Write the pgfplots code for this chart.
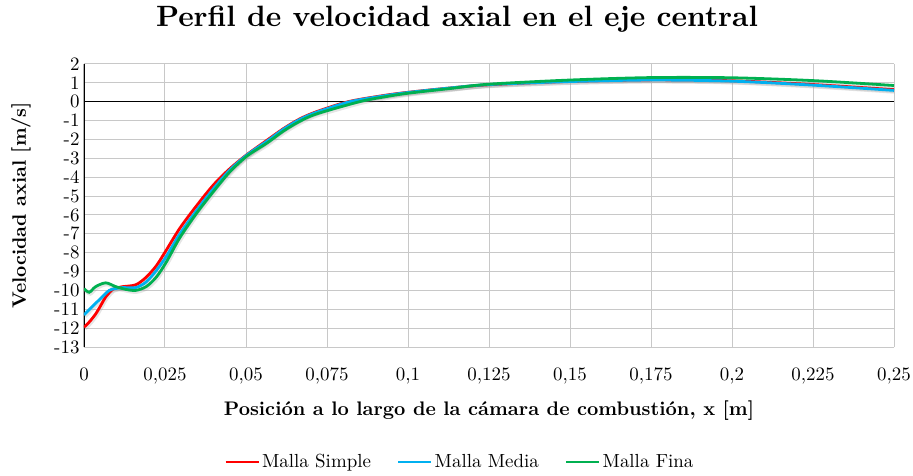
\documentclass[border=0pt]{standalone}
\usepackage{fontspec}
\setmainfont{lmroman10}[Extension=.otf, UprightFont=*-regular, BoldFont=*-bold, ItalicFont=*-italic, BoldItalicFont=*-bolditalic]
\usepackage{pgfplots}
\pgfplotsset{compat=1.18}
\usepackage{pgfplotstable}
\definecolor{cRed}{RGB}{255,0,0}
\definecolor{cBlue}{RGB}{0,176,240}
\definecolor{cGreen}{RGB}{0,176,80}
\definecolor{cGrid}{RGB}{200,200,200}

\pgfplotstableread{
x y
0 -11.95
0.0015 -11.7
0.0036 -11.25
0.0055 -10.7
0.0067 -10.35
0.0088 -9.95
0.0105 -9.85
0.012 -9.8
0.016 -9.7
0.0192 -9.3
0.0223 -8.7
0.0251 -7.95
0.0296 -6.7
0.0348 -5.5
0.040 -4.4
0.045 -3.55
0.0503 -2.8
0.0564 -2.05
0.0616 -1.42
0.0667 -0.9
0.0719 -0.52
0.0815 0.0
0.0925 0.33
0.1 0.5
0.113 0.73
0.125 0.9
0.15 1.08
0.175 1.16
0.2 1.11
0.225 0.91
0.25 0.64
}\simple

\pgfplotstableread{
x y
0 -11.3
0.002 -10.95
0.0047 -10.5
0.0078 -10.0
0.0105 -9.88
0.012 -9.85
0.016 -9.85
0.0192 -9.55
0.0223 -8.95
0.0254 -8.2
0.0296 -7.0
0.0348 -5.75
0.040 -4.6
0.045 -3.62
0.0503 -2.82
0.0564 -2.1
0.0616 -1.45
0.0667 -0.93
0.0719 -0.55
0.082 0.0
0.0925 0.31
0.1 0.49
0.113 0.73
0.125 0.91
0.15 1.07
0.175 1.15
0.2 1.09
0.225 0.88
0.25 0.6
}\media

\pgfplotstableread{
x y
0 -9.9
0.0016 -10.1
0.0036 -9.8
0.0067 -9.6
0.0098 -9.8
0.013 -9.95
0.016 -10.0
0.0192 -9.8
0.0223 -9.3
0.0254 -8.5
0.0296 -7.2
0.0348 -5.9
0.040 -4.75
0.045 -3.72
0.0503 -2.88
0.0564 -2.2
0.0616 -1.55
0.0667 -1.03
0.0719 -0.64
0.085 0.0
0.0925 0.25
0.1 0.45
0.113 0.7
0.125 0.93
0.15 1.15
0.175 1.28
0.2 1.27
0.225 1.12
0.25 0.86
}\fina

\begin{document}
\begin{tikzpicture}
\useasboundingbox (-84bp,-129bp) rectangle (829bp,347bp);
\begin{axis}[
  at={(0,0)}, anchor=south west,
  scale only axis,
  width=810bp, height=283bp,
  xmin=0, xmax=0.25, ymin=-13, ymax=2,
  xtick={0,0.025,0.05,0.075,0.1,0.125,0.15,0.175,0.2,0.225,0.25},
  xticklabels={0,{0,025},{0,05},{0,075},{0,1},{0,125},{0,15},{0,175},{0,2},{0,225},{0,25}},
  ytick={-13,-12,...,2},
  yticklabels={-13,-12,-11,-10,-9,-8,-7,-6,-5,-4,-3,-2,-1,0,1,2},
  major tick length=0pt,
  grid=major,
  major grid style={cGrid, line width=1bp},
  axis line style={draw=none},
  tick label style={font=\fontsize{19}{20}\selectfont},
  xticklabel style={yshift=-17bp},
  yticklabel style={xshift=-1bp},
  title={Perfil de velocidad axial en el eje central},
  title style={at={(0.4605,1.113)}, anchor=base, font=\fontsize{29.5}{32}\selectfont\bfseries},
  xlabel={Posición a lo largo de la cámara de combustión, x [m]},
  xlabel style={at={(0.5,-0.226)}, anchor=center, font=\fontsize{19.7}{21}\selectfont\bfseries},
  ylabel={Velocidad axial [m/s]},
  ylabel style={at={(-0.0778,0.5)}, anchor=center, font=\fontsize{19.5}{21}\selectfont\bfseries},
  legend style={at={(0.464,-0.406)}, anchor=center, draw=none, fill=none,
    legend columns=3, font=\fontsize{19}{20}\selectfont,
    /tikz/every even column/.append style={column sep=24bp},
    inner sep=0pt},
  legend cell align=left,
  legend image code/.code={\draw[#1, line width=2.8bp] (0bp,0bp) -- (33bp,0bp);},
  every axis plot/.append style={smooth, tension=0.5, line width=2.8bp},
]
\addplot[black, line width=1.2bp, forget plot, smooth=false] coordinates {(0,0) (0.25,0)};
\addplot[black, line width=1.5bp, forget plot] coordinates {(0,-13) (0,2)};
\addplot[black!40, opacity=0.25, forget plot, line width=3.8bp, yshift=-1.5bp, xshift=1bp] table {\simple};
\addplot[black!40, opacity=0.25, forget plot, line width=3.8bp, yshift=-1.5bp, xshift=1bp] table {\media};
\addplot[black!40, opacity=0.25, forget plot, line width=3.8bp, yshift=-1.5bp, xshift=1bp] table {\fina};
\addplot[cRed] table {\simple};
\addlegendentry{Malla Simple}
\addplot[cBlue] table {\media};
\addlegendentry{Malla Media}
\addplot[cGreen] table {\fina};
\addlegendentry{Malla Fina}
\end{axis}
\end{tikzpicture}
\end{document}
